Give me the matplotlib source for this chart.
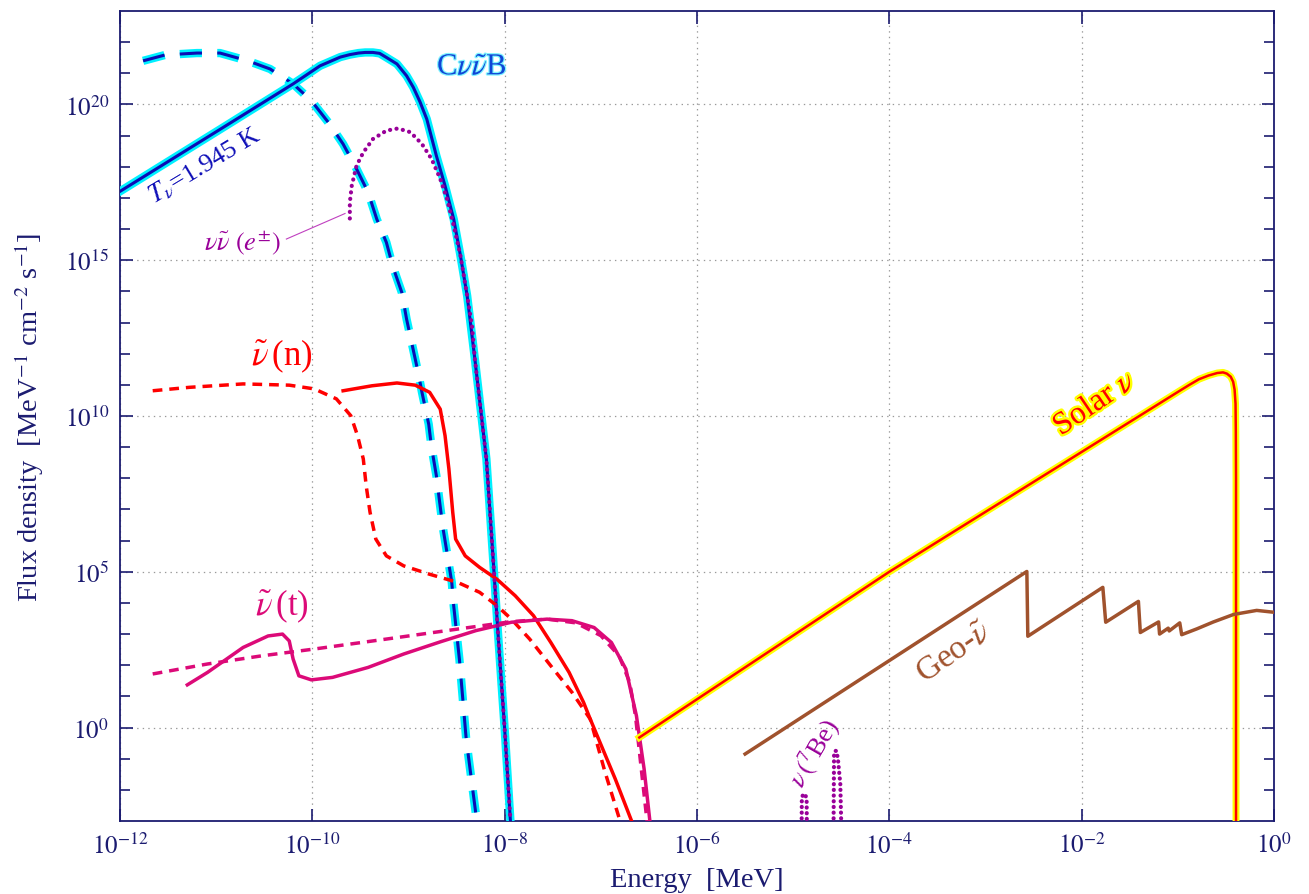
import numpy as np
import matplotlib
matplotlib.use("Agg")
import matplotlib.pyplot as plt
import matplotlib.patheffects as pe
from matplotlib.ticker import FixedLocator, FuncFormatter, NullLocator, NullFormatter

plt.rcParams['font.family'] = ['Liberation Serif', 'DejaVu Serif']
plt.rcParams['mathtext.fontset'] = 'stix'
plt.rcParams['lines.scale_dashes'] = False

NAVY = '#1b1b70'

# ---- data: log10(E / MeV) and log10(flux) ----
cnb_logE = [-12.0, -10.96, -10.20, -9.92, -9.71, -9.61, -9.52, -9.45, -9.37, -9.30, -9.23, -9.12,
            -9.02, -8.95, -8.88, -8.81, -8.71, -8.62, -8.53, -8.46, -8.39, -8.31,
            -8.19, -8.12, -8.07, -8.0, -7.94]
cnb_logF = [17.21, 19.20, 20.66, 21.24, 21.52, 21.60, 21.65, 21.67, 21.67, 21.64, 21.51, 21.30,
            20.92, 20.55, 20.08, 19.53, 18.35, 17.39, 16.32, 15.15, 13.86, 11.83,
            8.62, 5.41, 3.06, -0.05, -3.0]

cnbm_logE = [-11.76, -11.53, -11.20, -10.96, -10.67, -10.44, -10.20, -10.01, -9.82, -9.68,
             -9.54, -9.42, -9.33, -9.23, -9.16, -9.07, -9.02, -8.90, -8.86, -8.79,
             -8.76, -8.71, -8.68, -8.64, -8.60, -8.55, -8.53, -8.47, -8.40, -8.29]
cnbm_logF = [21.40, 21.59, 21.65, 21.65, 21.40, 21.14, 20.66, 20.12, 19.37, 18.73,
             17.93, 17.18, 16.32, 15.57, 14.77, 13.97, 13.11, 11.40, 10.76, 9.74,
             8.99, 8.08, 7.33, 6.37, 5.62, 4.66, 3.91, 2.17, -0.37, -3.0]

ee_logE = [-9.61, -9.61, -9.59, -9.54, -9.47, -9.37, -9.23, -9.11, -8.98, -8.86,
           -8.76, -8.67, -8.60, -8.53, -8.46, -8.39, -8.34, -8.31, -8.19, -8.12,
           -8.07, -8.0, -7.94]
ee_logF = [16.34, 16.86, 17.39, 18.04, 18.46, 18.89, 19.16, 19.23, 19.11, 18.73,
           18.25, 17.61, 16.97, 16.11, 15.15, 13.86, 12.90, 11.83, 8.62, 5.41,
           3.06, -0.05, -3.0]

nd_logE = [-11.66, -11.28, -10.72, -10.24, -9.98, -9.75, -9.60, -9.53, -9.47, -9.44,
           -9.40, -9.34, -9.23, -9.05, -8.78, -8.49, -8.26, -8.08, -7.93, -7.74,
           -7.52, -7.30, -7.11, -6.96, -6.80]
nd_logF = [10.81, 10.92, 11.03, 10.99, 10.87, 10.55, 10.01, 9.37, 8.62, 7.76,
           6.91, 6.05, 5.51, 5.19, 4.92, 4.66, 4.34, 3.91, 3.48, 2.84,
           1.98, 1.13, 0.27, -1.39, -3.0]

ns_logE = [-9.68, -9.38, -9.12, -8.93, -8.78, -8.67, -8.62, -8.58, -8.54, -8.51,
           -8.41, -8.26, -8.08, -7.89, -7.70, -7.52, -7.33, -7.18, -7.11, -6.85, -6.68]
ns_logF = [10.81, 10.97, 11.06, 10.99, 10.76, 10.22, 9.37, 8.30, 6.91, 6.05,
           5.51, 5.14, 4.76, 4.23, 3.59, 2.73, 1.77, 0.81, 0.27, -1.65, -3.0]

ts_logE = [-11.30, -11.09, -10.72, -10.46, -10.31, -10.24, -10.20, -10.14, -10.01, -9.79,
           -9.42, -9.05, -8.67, -8.30, -7.93, -7.56, -7.30, -7.07, -6.89, -6.74,
           -6.63, -6.55, -6.49]
ts_logF = [1.37, 1.77, 2.57, 2.94, 3.00, 2.78, 2.20, 1.66, 1.53, 1.61,
           1.93, 2.36, 2.75, 3.11, 3.38, 3.48, 3.43, 3.21, 2.73, 1.88,
           0.38, -1.33, -3.0]

td_logE = [-11.66, -11.09, -10.53, -9.98, -9.23, -8.49, -7.93, -7.56, -7.26, -7.00,
           -6.81, -6.70, -6.64, -6.52]
td_logF = [1.72, 2.04, 2.30, 2.52, 2.84, 3.16, 3.40, 3.48, 3.36, 2.95,
           2.30, 1.45, 0.38, -3.0]

sol_logE = [-6.60, -4.0, -1.92, -0.98, -0.88, -0.78, -0.68, -0.59, -0.53, -0.49,
            -0.45, -0.425, -0.41, -0.40, -0.397, -0.395, -0.395]
sol_logF = [-0.32, 5.0, 9.0, 10.81, 11.0, 11.18, 11.30, 11.38, 11.40, 11.36,
            11.26, 11.10, 10.85, 10.4, 9.5, 8.0, -3.0]

geo_logE = [-5.50, -2.57, -2.56, -1.78, -1.75, -1.41, -1.39, -1.20, -1.19, -1.10,
            -1.09, -0.98, -0.96, -0.80, -0.63, -0.42, -0.18, 0.0]
geo_logF = [-0.85, 5.01, 2.93, 4.50, 3.38, 4.05, 3.05, 3.39, 3.00, 3.19,
            3.10, 3.36, 2.98, 3.17, 3.39, 3.63, 3.76, 3.70]

be1_logE = [-4.912, -4.910, -4.895, -4.875, -4.860, -4.858]
be1_logF = [-3.1, -2.25, -2.14, -2.14, -2.3, -3.1]
be2_logE = [-4.580, -4.575, -4.565, -4.550, -4.535, -4.510, -4.500]
be2_logF = [-3.1, -0.9, -0.75, -0.75, -1.0, -1.8, -3.1]

xtick_exp = [-12, -10, -8, -6, -4, -2, 0]
ytick_exp = [0, 5, 10, 15, 20]


def p(le, lf):
    return 10.0 ** np.asarray(le), 10.0 ** np.asarray(lf)


fig = plt.figure(figsize=(13.09, 8.95), dpi=100)
ax = fig.add_axes([120 / 1309, 1 - 822 / 895, 1154 / 1309, 810 / 895])
ax.set_xscale('log')
ax.set_yscale('log')
ax.set_xlim(1e-12, 1.0)
ax.set_ylim(1e-3, 1e23)

CORE = '#0c0cb4'
CYAN = '#00f0ff'
RED = '#ff0000'
MAG = '#dc0a78'
PUR = '#990099'
BROWN = '#a0522d'

cyan_fx = [pe.Stroke(linewidth=6, foreground=CYAN), pe.Normal()]

# CnuB dashed
x, y = p(cnbm_logE, cnbm_logF)
ax.plot(x, y, color=CORE, lw=2.2, dashes=(16, 11), dash_capstyle='butt',
        path_effects=cyan_fx, zorder=3)
# CnuB solid
x, y = p(cnb_logE, cnb_logF)
ax.plot(x, y, color=CORE, lw=2.2, path_effects=cyan_fx, zorder=4)

# e+- pair neutrinos dotted
x, y = p(ee_logE, ee_logF)
ax.plot(x, y, color=PUR, lw=3, dashes=(0.1, 4.6), dash_capstyle='round', zorder=5)

# neutron decay antineutrinos
x, y = p(nd_logE, nd_logF)
ax.plot(x, y, color=RED, lw=2.5, dashes=(7, 5), zorder=4)
x, y = p(ns_logE, ns_logF)
ax.plot(x, y, color=RED, lw=2.5, zorder=4)

# tritium decay antineutrinos
x, y = p(td_logE, td_logF)
ax.plot(x, y, color=MAG, lw=2.5, dashes=(7, 5), zorder=4)
x, y = p(ts_logE, ts_logF)
ax.plot(x, y, color=MAG, lw=2.5, zorder=4)

# solar
x, y = p(sol_logE, sol_logF)
ax.plot(x, y, color=RED, lw=1.8,
        path_effects=[pe.Stroke(linewidth=5, foreground='#ffff00'), pe.Normal()], zorder=4)

# geo
x, y = p(geo_logE, geo_logF)
ax.plot(x, y, color=BROWN, lw=2.5, zorder=4)

# Be7
for le, lf in ((be1_logE, be1_logF), (be2_logE, be2_logF)):
    x, y = p(le, lf)
    ax.plot(x, y, color=PUR, lw=3, dashes=(0.1, 4.0), dash_capstyle='round', zorder=5)

# ---- labels ----
ax.text(10 ** -8.34, 10 ** 21.2, r'C$\nu\tilde{\nu}$B', color='#1046d6', fontsize=22,
        ha='center', va='center',
        path_effects=[pe.Stroke(linewidth=1.8, foreground='#7ff4ff'), pe.Normal()])
ax.text(10 ** -11.12, 10 ** 18.06, r'$T_\nu$=1.945 K', color='#1010b8', fontsize=19,
        ha='center', va='center', rotation=31)
ax.text(10 ** -10.73, 10 ** 15.58, r'$\nu\tilde{\nu}\ (e^{\pm})$', color=PUR, fontsize=19,
        ha='center', va='center')
ax.plot([10 ** -10.27, 10 ** -9.66], [10 ** 15.68, 10 ** 16.5], color='#c040c0', lw=0.8)
ax.text(10 ** -10.32, 10 ** 11.96, r'$\tilde{\nu}\,$(n)', color=RED, fontsize=25,
        ha='center', va='center')
ax.text(10 ** -10.32, 10 ** 3.91, r'$\tilde{\nu}\,$(t)', color=MAG, fontsize=25,
        ha='center', va='center')
ax.text(10 ** -1.862, 10 ** 10.38, r'Solar $\nu$', color=RED, fontsize=23,
        ha='center', va='center', rotation=34,
        path_effects=[pe.Stroke(linewidth=3.5, foreground='#ffff00'), pe.Normal()])
ax.text(10 ** -3.33, 10 ** 2.42, r'Geo-$\tilde{\nu}$', color=BROWN, fontsize=24,
        ha='center', va='center', rotation=35)
ax.text(10 ** -4.78, 10 ** -0.79, r'$\nu\,(^{7}$Be)', color=PUR, fontsize=19,
        ha='center', va='center', rotation=60)

# ---- axes styling ----
ax.xaxis.set_major_locator(FixedLocator([10.0 ** k for k in xtick_exp]))
ax.xaxis.set_minor_locator(NullLocator())
ax.yaxis.set_major_locator(FixedLocator([10.0 ** k for k in ytick_exp]))
ax.yaxis.set_minor_locator(FixedLocator([10.0 ** k for k in range(-2, 23) if k % 5 != 0]))
fmt = FuncFormatter(lambda v, pos: r'$10^{%d}$' % int(round(np.log10(v))))
ax.xaxis.set_major_formatter(fmt)
ax.yaxis.set_major_formatter(fmt)
ax.xaxis.set_minor_formatter(NullFormatter())
ax.yaxis.set_minor_formatter(NullFormatter())
ax.tick_params(which='both', direction='in', top=True, right=True, colors=NAVY,
               labelcolor=NAVY, labelsize=18, width=1.2)
ax.tick_params(which='major', length=9, pad=8)
ax.tick_params(which='minor', length=7)
ax.grid(True, which='major', color='#999999', lw=0.9, dashes=(1, 3))
for s in ax.spines.values():
    s.set_color(NAVY)
    s.set_linewidth(1.3)

ax.set_xlabel('Energy  [MeV]', color=NAVY, fontsize=20.5, labelpad=7)
ax.set_ylabel(r'Flux density  [MeV$^{-1}$ cm$^{-2}$ s$^{-1}$]', color=NAVY, fontsize=20.5,
              labelpad=13)

fig.savefig('out.png', dpi=100)
